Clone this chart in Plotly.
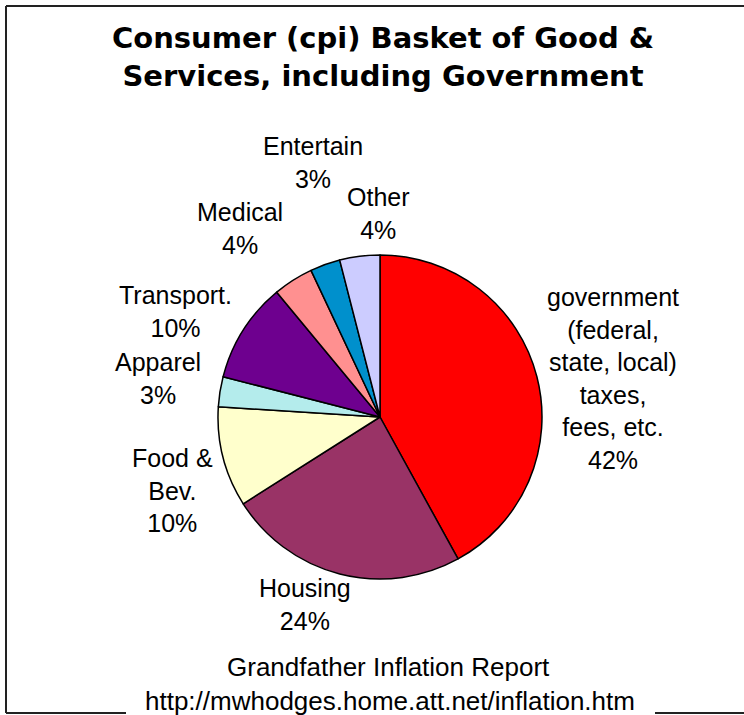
import plotly.graph_objects as go

W, H = 744, 715

categories = ["government<br>(federal,<br>state, local)<br>taxes,<br>fees, etc.",
              "Housing", "Food &<br>Bev.", "Apparel", "Transport.",
              "Medical", "Entertain", "Other"]
shares = [42, 24, 10, 3, 10, 4, 3, 4]
colors = ["#FF0000", "#993366", "#FFFFCC", "#B4ECEC", "#6E008F",
          "#FF9090", "#0090CC", "#CCCCFF"]

# label centres in pixels (layout only)
label_pos = [(613, 378), (305, 604), (172, 490), (158, 378), (175, 312),
             (240, 228), (313, 162), (378, 214)]

cx, cy, r = 380, 417, 162

fig = go.Figure(go.Pie(
    values=shares, labels=[c.replace("<br>", " ") for c in categories],
    sort=False, direction="clockwise", rotation=0,
    marker=dict(colors=colors, line=dict(color="black", width=1.5)),
    textinfo="none", hoverinfo="label+percent", showlegend=False,
    domain=dict(x=[(cx - r) / W, (cx + r) / W], y=[1 - (cy + r) / H, 1 - (cy - r) / H]),
))

def px(x, y):
    return x / W, 1 - y / H

ann = []
for cat, v, (x, y) in zip(categories, shares, label_pos):
    ax, ay = px(x, y)
    ann.append(dict(text=f"{cat}<br>{v}%", x=ax, y=ay, xref="paper", yref="paper",
                    showarrow=False, xanchor="center", yanchor="middle",
                    font=dict(family="Liberation Sans, Arial", size=25, color="black")))

tx, ty = px(383, 57)
ann.append(dict(text="<b>Consumer (cpi) Basket of Good &<br>Services, including Government</b>",
                x=tx, y=ty, xref="paper", yref="paper", showarrow=False,
                xanchor="center", yanchor="middle",
                font=dict(family="DejaVu Sans, Liberation Sans", size=29, color="black")))
fx, fy = px(388, 667)
ann.append(dict(text="Grandfather Inflation Report", x=fx, y=fy, xref="paper", yref="paper",
                showarrow=False, xanchor="center", yanchor="middle",
                font=dict(family="Liberation Sans, Arial", size=26, color="black")))
ux, uy = px(390, 701)
ann.append(dict(text="http://mwhodges.home.att.net/inflation.htm", x=ux, y=uy, xref="paper", yref="paper",
                showarrow=False, xanchor="center", yanchor="middle",
                font=dict(family="Liberation Sans, Arial", size=26, color="black")))

line = dict(color="#222222", width=2)
shapes = [
    dict(type="line", xref="paper", yref="paper", x0=6 / W, y0=1 - 6 / H, x1=1, y1=1 - 6 / H, line=line),
    dict(type="line", xref="paper", yref="paper", x0=6 / W, y0=1 - 6 / H, x1=6 / W, y1=1 - 713 / H, line=line),
    dict(type="line", xref="paper", yref="paper", x0=6 / W, y0=1 - 713 / H, x1=126 / W, y1=1 - 713 / H, line=line),
    dict(type="line", xref="paper", yref="paper", x0=655 / W, y0=1 - 713 / H, x1=1, y1=1 - 713 / H, line=line),
]

fig.update_layout(width=W, height=H, margin=dict(l=0, r=0, t=0, b=0),
                  paper_bgcolor="white", plot_bgcolor="white",
                  annotations=ann, shapes=shapes)
fig.write_html("out.html", config={"displayModeBar": False},
               post_script="document.body.style.margin='0px';document.body.style.overflow='hidden';")
